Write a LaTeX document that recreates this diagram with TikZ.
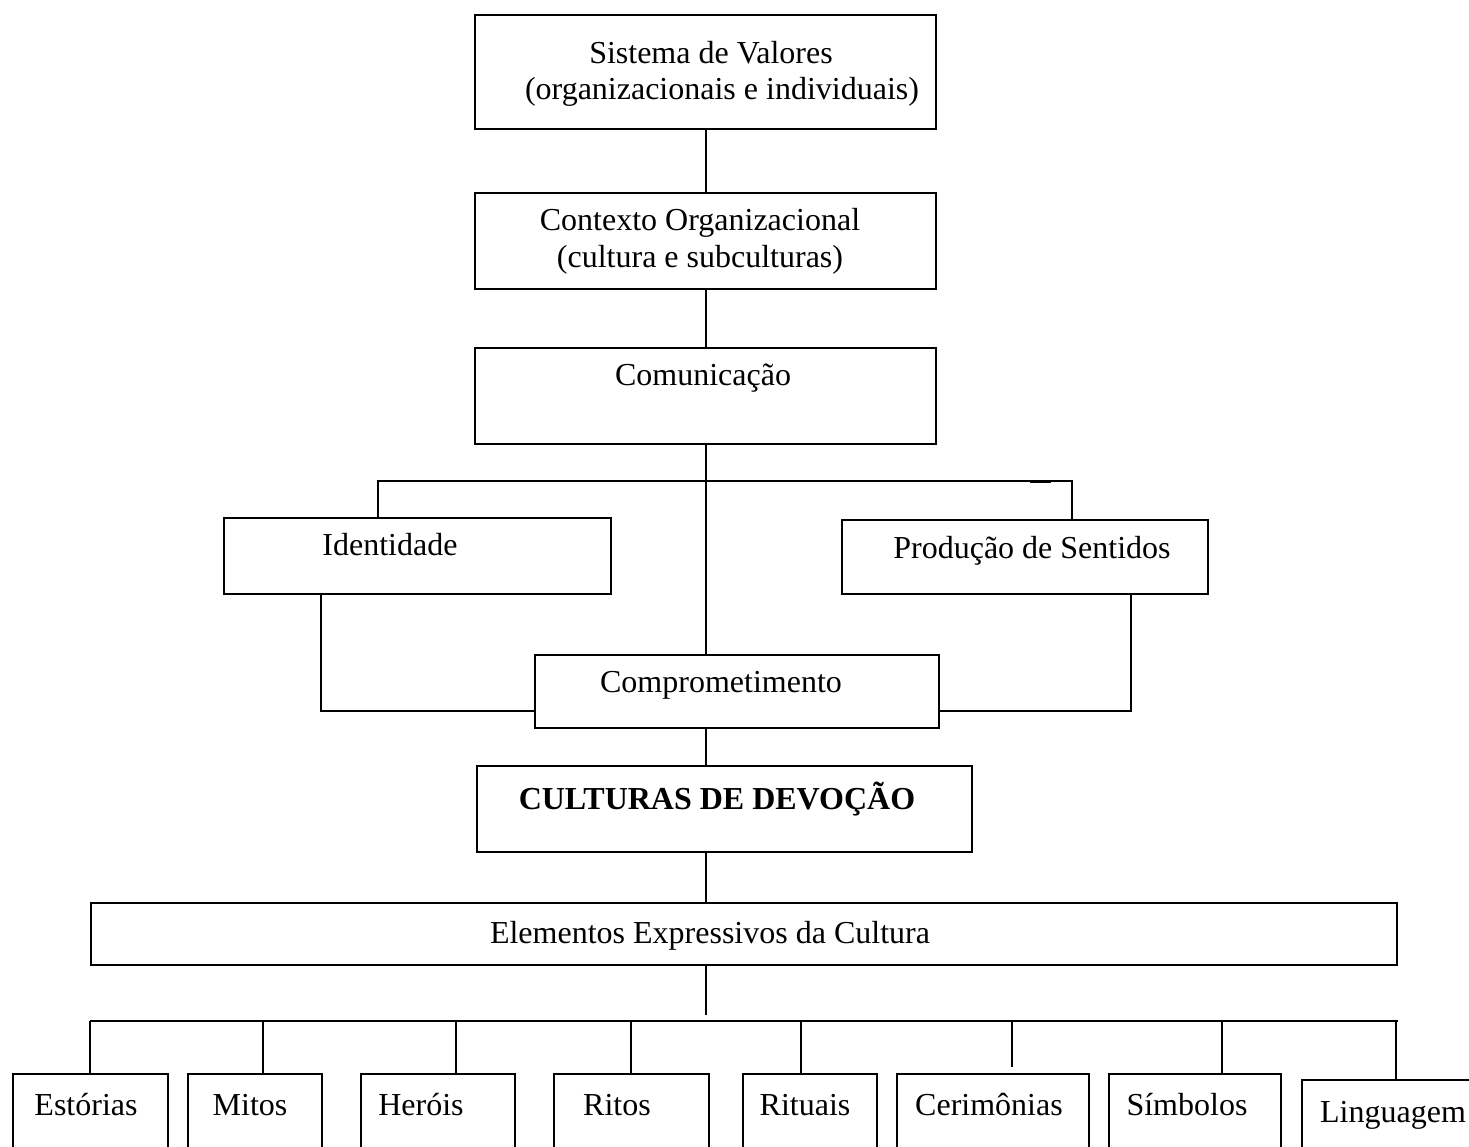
\documentclass[tikz,border=0pt]{standalone}
\usepackage{fontspec}
\setmainfont{Liberation Serif}
\begin{document}
\begin{tikzpicture}[x=1pt,y=-1pt,
  box/.style={draw, line width=2pt, inner sep=0pt, anchor=north west},
  txt/.style={inner sep=0pt, anchor=base, font=\fontsize{32}{38}\selectfont},
  link/.style={line width=2pt}]
\useasboundingbox (0,0) rectangle (1469,1147);
\fill[white] (0,0) rectangle (1469,1147);
\clip (0,0) rectangle (1469,1147);

% main column of boxes
\node[box, minimum width=461pt, minimum height=114pt] (sv)  at (474,14)  {};
\node[box, minimum width=461pt, minimum height=96pt]  (ctx) at (474,192) {};
\node[box, minimum width=461pt, minimum height=96pt]  (com) at (474,347) {};
\node[box, minimum width=387pt, minimum height=76pt]  (idt) at (223,517) {};
\node[box, minimum width=366pt, minimum height=74pt]  (prd) at (841,519) {};
\node[box, minimum width=404pt, minimum height=73pt]  (cmp) at (534,654) {};
\node[box, minimum width=495pt, minimum height=86pt]  (cul) at (476,765) {};
\node[box, minimum width=1306pt, minimum height=62pt] (ele) at (90,902)  {};

% expressive elements
\node[box, minimum width=155pt, minimum height=100pt] (e1) at (12,1073)   {};
\node[box, minimum width=134pt, minimum height=100pt] (e2) at (187,1073)  {};
\node[box, minimum width=154pt, minimum height=100pt] (e3) at (360,1073)  {};
\node[box, minimum width=155pt, minimum height=100pt] (e4) at (553,1073)  {};
\node[box, minimum width=134pt, minimum height=100pt] (e5) at (742,1073)  {};
\node[box, minimum width=192pt, minimum height=100pt] (e6) at (896,1073)  {};
\node[box, minimum width=172pt, minimum height=100pt] (e7) at (1108,1073) {};
\node[box, minimum width=200pt, minimum height=100pt] (e8) at (1301,1079) {};

% labels
\node[txt] (t1a) at (711,64)  {Sistema de Valores};
\node[txt] (t1b) at (722,100) {(organizacionais e individuais)};
\node[txt] (t2a) at (700,231) {Contexto Organizacional};
\node[txt] (t2b) at (700,268) {(cultura e subculturas)};
\node[txt] (t3)  at (703,385) {Comunicação};
\node[txt] (t4)  at (390,555) {Identidade};
\node[txt] (t5)  at (1032,558) {Produção de Sentidos};
\node[txt] (t6)  at (721,692) {Comprometimento};
\node[txt, font=\fontsize{32}{38}\selectfont\bfseries] (t7) at (717,809) {CULTURAS DE DEVOÇÃO};
\node[txt] (t8)  at (710,943) {Elementos Expressivos da Cultura};
\node[txt] (l1) at (86,1115)   {Estórias};
\node[txt] (l2) at (250,1115)  {Mitos};
\node[txt] (l3) at (421,1115)  {Heróis};
\node[txt] (l4) at (617,1115)  {Ritos};
\node[txt] (l5) at (805,1115)  {Rituais};
\node[txt] (l6) at (989,1115)  {Cerimônias};
\node[txt] (l7) at (1187,1115) {Símbolos};
\node[txt] (l8) at (1393,1122) {Linguagem};

% junction points
\coordinate (ax) at (706,0);
\coordinate (bl) at (378,481);
\coordinate (br) at (1072,481);
\coordinate (il) at (321,711);
\coordinate (ir) at (1131,711);
\coordinate (bar) at (0,1021);
\coordinate (gap) at (0,1015);

% connectors
\draw[link] (sv.south) -- (ctx.north);
\draw[link] (ctx.south) -- (com.north);
\draw[link] (ax |- com.south) -- (ax |- cmp.north);
\draw[link] (bl |- idt.north) -- (bl) -- (br) -- (br |- prd.north);
\draw[line width=3pt] (1030,481) -- (1051,481);
\draw[link] (il |- idt.south) -- (il) -- (il -| cmp.west);
\draw[link] (ir |- prd.south) -- (ir) -- (ir -| cmp.east);
\draw[link] (ax |- cmp.south) -- (ax |- cul.north);
\draw[link] (ax |- cul.south) -- (ax |- ele.north);
\draw[link] (ax |- ele.south) -- (ax |- gap);
\draw[link] (ele.west |- bar) -- (ele.east |- bar);
\draw[link] (90,1021)   -- (90,1073);
\draw[link] (263,1021)  -- (263,1073);
\draw[link] (456,1021)  -- (456,1073);
\draw[link] (631,1021)  -- (631,1073);
\draw[link] (801,1021)  -- (801,1073);
\draw[link] (1012,1021) -- (1012,1067);
\draw[link] (1222,1021) -- (1222,1073);
\draw[link] (1396,1021) -- (1396,1079);
\end{tikzpicture}
\end{document}
